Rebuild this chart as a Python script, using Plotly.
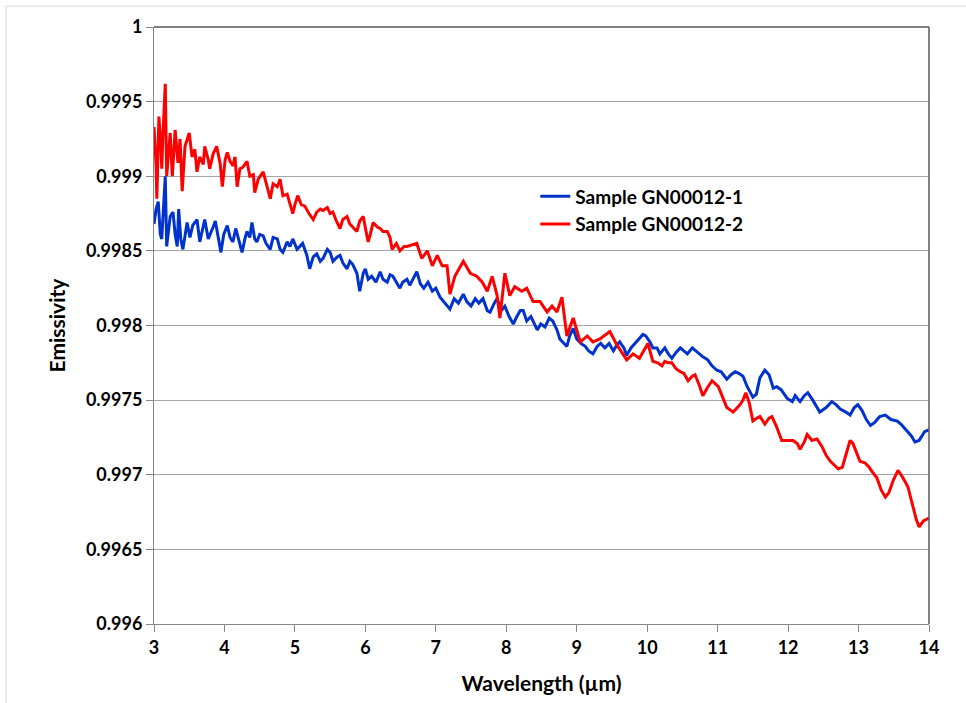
import plotly.graph_objects as go

# ---- data ----
blue_wl = [3.00, 3.03, 3.06, 3.09, 3.11, 3.16, 3.18, 3.23, 3.27, 3.30, 3.33, 3.35, 3.38, 3.41, 3.47,
           3.51, 3.55, 3.61, 3.65, 3.70, 3.72, 3.77, 3.79, 3.84, 3.87, 3.91, 3.95, 3.99, 4.04, 4.08,
           4.12, 4.16, 4.21, 4.25, 4.29, 4.32, 4.36, 4.39, 4.43, 4.46, 4.50, 4.55, 4.59, 4.65, 4.69,
           4.75, 4.79, 4.83, 4.89, 4.93, 4.97, 5.03, 5.07, 5.11, 5.17, 5.21, 5.26, 5.31, 5.36, 5.40,
           5.46, 5.50, 5.54, 5.60, 5.64, 5.68, 5.74, 5.78, 5.82, 5.88, 5.92, 5.97, 6.00, 6.04, 6.09,
           6.15, 6.21, 6.25, 6.31, 6.35, 6.39, 6.45, 6.49, 6.53, 6.59, 6.63, 6.68, 6.73, 6.78, 6.83,
           6.89, 6.95, 7.00, 7.06, 7.13, 7.20, 7.26, 7.32, 7.39, 7.44, 7.50, 7.56, 7.61, 7.67, 7.73,
           7.77, 7.83, 7.87, 7.93, 7.98, 8.04, 8.10, 8.15, 8.20, 8.24, 8.29, 8.35, 8.44, 8.49, 8.55,
           8.61, 8.66, 8.72, 8.76, 8.82, 8.86, 8.90, 8.95, 9.00, 9.06, 9.12, 9.17, 9.23, 9.29, 9.34,
           9.40, 9.46, 9.52, 9.57, 9.61, 9.67, 9.71, 9.77, 9.83, 9.88, 9.94, 9.98, 10.04, 10.08, 10.14,
           10.18, 10.25, 10.30, 10.35, 10.41, 10.47, 10.52, 10.57, 10.64, 10.71, 10.79, 10.86, 10.92, 10.99, 11.05,
           11.13, 11.19, 11.25, 11.30, 11.36, 11.42, 11.50, 11.55, 11.60, 11.67, 11.73, 11.79, 11.84, 11.90, 11.99,
           12.06, 12.10, 12.17, 12.23, 12.28, 12.35, 12.45, 12.54, 12.62, 12.68, 12.74, 12.82, 12.88, 12.94, 12.99,
           13.05, 13.11, 13.17, 13.23, 13.30, 13.38, 13.46, 13.55, 13.60, 13.69, 13.75, 13.80, 13.86, 13.94, 14.00]
blue_em = [0.99868, 0.99878, 0.99883, 0.99861, 0.99858, 0.99900, 0.99853, 0.99873, 0.99876, 0.99861,
           0.99853, 0.99878, 0.99858, 0.99851, 0.99869, 0.99859, 0.99867, 0.99871, 0.99856, 0.99866,
           0.99871, 0.99858, 0.99860, 0.99866, 0.99870, 0.99858, 0.99849, 0.99861, 0.99867, 0.99859,
           0.99856, 0.99865, 0.99855, 0.99849, 0.99858, 0.99863, 0.99859, 0.99869, 0.99858, 0.99856,
           0.99861, 0.99860, 0.99855, 0.99851, 0.99859, 0.99858, 0.99851, 0.99849, 0.99856, 0.99853,
           0.99858, 0.99851, 0.99853, 0.99855, 0.99847, 0.99838, 0.99846, 0.99848, 0.99843, 0.99845,
           0.99851, 0.99849, 0.99843, 0.99846, 0.99847, 0.99842, 0.99838, 0.99843, 0.99841, 0.99835,
           0.99823, 0.99835, 0.99838, 0.99831, 0.99833, 0.99829, 0.99836, 0.99831, 0.99829, 0.99834,
           0.99833, 0.99828, 0.99825, 0.99829, 0.99831, 0.99827, 0.99831, 0.99836, 0.99828, 0.99825,
           0.99829, 0.99823, 0.99825, 0.99819, 0.99815, 0.99811, 0.99818, 0.99815, 0.99821, 0.99816,
           0.99813, 0.99818, 0.99815, 0.99818, 0.99810, 0.99809, 0.99815, 0.99818, 0.99810, 0.99813,
           0.99806, 0.99801, 0.99806, 0.99810, 0.99810, 0.99803, 0.99806, 0.99797, 0.99801, 0.99799,
           0.99805, 0.99803, 0.99797, 0.99791, 0.99788, 0.99786, 0.99793, 0.99798, 0.99791, 0.99788,
           0.99786, 0.99783, 0.99781, 0.99786, 0.99788, 0.99785, 0.99788, 0.99783, 0.99787, 0.99789,
           0.99785, 0.99780, 0.99785, 0.99788, 0.99791, 0.99794, 0.99793, 0.99789, 0.99785, 0.99785,
           0.99781, 0.99785, 0.99781, 0.99778, 0.99782, 0.99785, 0.99783, 0.99781, 0.99785, 0.99782,
           0.99779, 0.99777, 0.99773, 0.99770, 0.99769, 0.99764, 0.99767, 0.99769, 0.99768, 0.99766,
           0.99759, 0.99752, 0.99754, 0.99765, 0.99770, 0.99767, 0.99758, 0.99759, 0.99757, 0.99751,
           0.99749, 0.99753, 0.99749, 0.99753, 0.99755, 0.99750, 0.99742, 0.99745, 0.99749, 0.99747,
           0.99744, 0.99742, 0.99740, 0.99745, 0.99747, 0.99743, 0.99737, 0.99733, 0.99735, 0.99739,
           0.99740, 0.99737, 0.99736, 0.99734, 0.99729, 0.99726, 0.99722, 0.99723, 0.99729, 0.99730]

red_wl = [3.00, 3.03, 3.04, 3.07, 3.10, 3.11, 3.13, 3.16, 3.18, 3.23, 3.26, 3.30, 3.34, 3.37, 3.40,
          3.44, 3.50, 3.54, 3.58, 3.61, 3.65, 3.70, 3.72, 3.77, 3.79, 3.84, 3.89, 3.94, 3.97, 4.01,
          4.04, 4.08, 4.12, 4.15, 4.18, 4.22, 4.26, 4.32, 4.36, 4.41, 4.43, 4.48, 4.55, 4.59, 4.65,
          4.69, 4.75, 4.79, 4.83, 4.89, 4.93, 4.97, 5.00, 5.04, 5.09, 5.14, 5.20, 5.26, 5.31, 5.36,
          5.40, 5.46, 5.50, 5.54, 5.58, 5.64, 5.68, 5.74, 5.78, 5.82, 5.88, 5.92, 5.97, 6.01, 6.04,
          6.07, 6.11, 6.17, 6.21, 6.25, 6.31, 6.35, 6.38, 6.44, 6.49, 6.55, 6.59, 6.73, 6.80, 6.88,
          6.95, 7.02, 7.09, 7.16, 7.20, 7.27, 7.39, 7.49, 7.58, 7.66, 7.73, 7.80, 7.87, 7.91, 7.98,
          8.05, 8.12, 8.22, 8.29, 8.38, 8.48, 8.58, 8.65, 8.72, 8.79, 8.86, 8.95, 9.05, 9.15, 9.23,
          9.33, 9.47, 9.57, 9.71, 9.80, 9.89, 10.01, 10.08, 10.15, 10.21, 10.25, 10.30, 10.35, 10.41, 10.47,
          10.52, 10.58, 10.64, 10.68, 10.74, 10.79, 10.85, 10.92, 11.01, 11.06, 11.13, 11.22, 11.28, 11.32, 11.36,
          11.40, 11.45, 11.50, 11.56, 11.60, 11.67, 11.73, 11.77, 11.83, 11.91, 11.99, 12.07, 12.13, 12.17, 12.23,
          12.27, 12.34, 12.41, 12.48, 12.54, 12.60, 12.65, 12.71, 12.77, 12.82, 12.88, 12.92, 12.98, 13.02, 13.09,
          13.15, 13.21, 13.26, 13.32, 13.38, 13.43, 13.49, 13.56, 13.63, 13.70, 13.76, 13.82, 13.86, 13.92, 14.00]
red_em = [0.99933, 0.99907, 0.99885, 0.99940, 0.99918, 0.99905, 0.99931, 0.99962, 0.99900, 0.99929,
          0.99900, 0.99931, 0.99909, 0.99925, 0.99890, 0.99920, 0.99929, 0.99913, 0.99918, 0.99903,
          0.99913, 0.99908, 0.99920, 0.99911, 0.99905, 0.99915, 0.99920, 0.99908, 0.99893, 0.99911,
          0.99916, 0.99910, 0.99907, 0.99913, 0.99893, 0.99905, 0.99906, 0.99910, 0.99900, 0.99901,
          0.99889, 0.99898, 0.99903, 0.99895, 0.99885, 0.99895, 0.99893, 0.99898, 0.99887, 0.99888,
          0.99881, 0.99875, 0.99881, 0.99887, 0.99881, 0.99880, 0.99875, 0.99871, 0.99876, 0.99878,
          0.99877, 0.99879, 0.99875, 0.99876, 0.99871, 0.99865, 0.99871, 0.99873, 0.99868, 0.99866,
          0.99863, 0.99870, 0.99873, 0.99863, 0.99856, 0.99861, 0.99869, 0.99866, 0.99865, 0.99863,
          0.99863, 0.99859, 0.99851, 0.99855, 0.99850, 0.99853, 0.99853, 0.99855, 0.99845, 0.99850,
          0.99840, 0.99847, 0.99840, 0.99840, 0.99821, 0.99833, 0.99843, 0.99835, 0.99833, 0.99829,
          0.99823, 0.99833, 0.99820, 0.99805, 0.99835, 0.99820, 0.99826, 0.99823, 0.99825, 0.99816,
          0.99816, 0.99809, 0.99813, 0.99809, 0.99819, 0.99793, 0.99805, 0.99789, 0.99793, 0.99789,
          0.99791, 0.99796, 0.99787, 0.99777, 0.99781, 0.99778, 0.99788, 0.99776, 0.99775, 0.99773,
          0.99776, 0.99775, 0.99775, 0.99771, 0.99769, 0.99768, 0.99763, 0.99766, 0.99767, 0.99760,
          0.99753, 0.99758, 0.99763, 0.99759, 0.99753, 0.99745, 0.99742, 0.99745, 0.99747, 0.99750,
          0.99755, 0.99748, 0.99736, 0.99738, 0.99739, 0.99734, 0.99738, 0.99739, 0.99733, 0.99723,
          0.99723, 0.99723, 0.99721, 0.99717, 0.99722, 0.99727, 0.99723, 0.99724, 0.99719, 0.99713,
          0.99709, 0.99707, 0.99704, 0.99705, 0.99713, 0.99723, 0.99721, 0.99713, 0.99709, 0.99708,
          0.99705, 0.99701, 0.99698, 0.99690, 0.99685, 0.99688, 0.99696, 0.99703, 0.99698, 0.99692,
          0.99681, 0.99670, 0.99665, 0.99669, 0.99671]

series_names = ["Sample GN00012-1", "Sample GN00012-2"]
x_ticks = [3, 4, 5, 6, 7, 8, 9, 10, 11, 12, 13, 14]
y_ticks = [0.996, 0.9965, 0.997, 0.9975, 0.998, 0.9985, 0.999, 0.9995, 1.0]
y_tick_labels = ["0.996", "0.9965", "0.997", "0.9975", "0.998", "0.9985", "0.999", "0.9995", "1"]

FONT = "Lato"
tick_font = dict(family=FONT, size=18, color="#000000", weight="bold")
title_font = dict(family=FONT, size=21, color="#000000", weight="bold")
legend_font = dict(family=FONT, size=19, color="#000000", weight="bold")

fig = go.Figure()
fig.add_trace(go.Scatter(x=blue_wl, y=blue_em, mode="lines", name=series_names[0],
                         line=dict(color="#0033CC", width=3)))
fig.add_trace(go.Scatter(x=red_wl, y=red_em, mode="lines", name=series_names[1],
                         line=dict(color="#FF0000", width=3)))

fig.update_layout(
    width=966, height=703,
    margin=dict(l=154, r=37, t=27, b=76),
    paper_bgcolor="white", plot_bgcolor="white",
    showlegend=True,
    legend=dict(x=0.492, y=0.748, xanchor="left", yanchor="top",
                bgcolor="rgba(0,0,0,0)", font=legend_font, tracegroupgap=0,
                itemwidth=30),
    xaxis=dict(range=[3, 14], tickvals=x_ticks, ticktext=[str(t) for t in x_ticks],
               showgrid=False, zeroline=False, showline=True, linecolor="#868686", linewidth=1,
               ticks="outside", ticklen=7, tickcolor="#868686", tickfont=tick_font,
               title=dict(text="Wavelength (µm)", font=title_font, standoff=19)),
    yaxis=dict(range=[0.996, 1.0], tickvals=y_ticks, ticktext=y_tick_labels,
               showgrid=True, gridcolor="#A6A6A6", gridwidth=1, zeroline=False,
               showline=True, linecolor="#868686", linewidth=1,
               ticks="outside", ticklen=7, tickcolor="#868686", tickfont=tick_font,
               title=dict(text="Emissivity", font=title_font, standoff=14)),
    shapes=[
        # plot area top & right border
        dict(type="line", xref="paper", yref="paper", x0=0, x1=1, y0=1, y1=1,
             line=dict(color="#000000", width=1)),
        dict(type="line", xref="paper", yref="paper", x0=1, x1=1, y0=0, y1=1,
             line=dict(color="#595959", width=1.5)),
        # outer chart border
        dict(type="rect", xref="paper", yref="paper", x0=-0.191, x1=1.06, y0=-0.14, y1=1.035,
             line=dict(color="#D9D9D9", width=1), layer="below"),
    ],
)

fig.write_html("out.html", config={"displayModeBar": False},
               post_script="document.body.style.margin='0';")
